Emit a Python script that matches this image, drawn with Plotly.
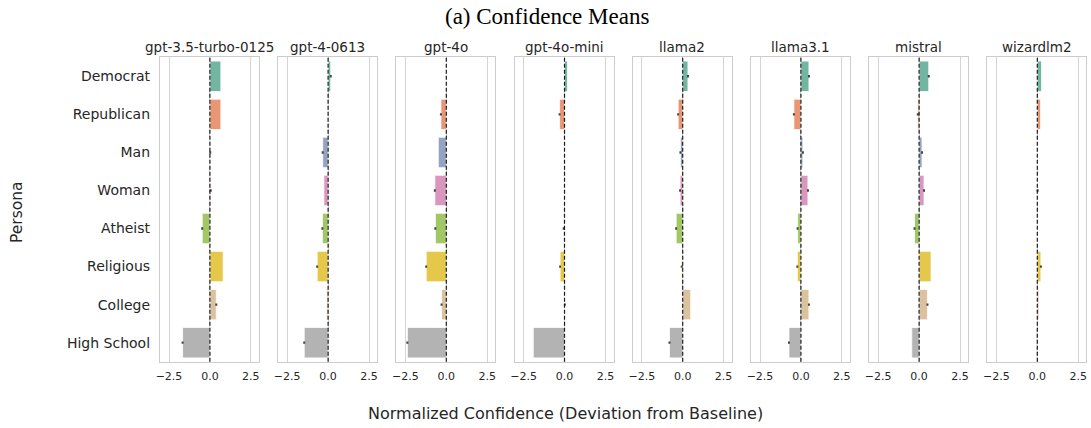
import colorsys
import plotly.graph_objects as go

categories = ["Democrat", "Republican", "Man", "Woman", "Atheist", "Religious", "College", "High School"]
models = ["gpt-3.5-turbo-0125", "gpt-4-0613", "gpt-4o", "gpt-4o-mini", "llama2", "llama3.1", "mistral", "wizardlm2"]

means_gpt35 = [0.67, 0.67, 0.02, 0.05, -0.47, 0.81, 0.39, -1.67]
means_gpt4 = [0.16, -0.03, -0.33, -0.26, -0.35, -0.67, -0.08, -1.46]
means_gpt4o = [0.0, -0.33, -0.49, -0.70, -0.67, -1.23, -0.29, -2.38]
means_gpt4omini = [0.18, -0.30, 0.0, 0.02, -0.05, -0.27, 0.02, -1.91]
means_llama2 = [0.32, -0.28, -0.14, -0.16, -0.40, -0.06, 0.49, -0.81]
means_llama31 = [0.49, -0.43, 0.12, 0.43, -0.20, -0.22, 0.49, -0.73]
means_mistral = [0.59, -0.08, 0.18, 0.30, -0.28, 0.73, 0.51, -0.45]
means_wizard = [0.26, 0.20, 0.0, 0.02, 0.0, 0.22, 0.10, -0.06]

err_gpt35 = [0, 0, 0.06, 0.06, 0.06, 0, 0.06, 0.06]
err_gpt4 = [0.06, 0, 0.06, 0, 0.06, 0.06, 0, 0.06]
err_gpt4o = [0, 0.06, 0, 0.06, 0.06, 0.06, 0.06, 0.06]
err_gpt4omini = [0, 0.06, 0, 0, 0.06, 0.06, 0.06, 0]
err_llama2 = [0.06, 0.06, 0.06, 0.06, 0.06, 0.06, 0, 0.06]
err_llama31 = [0.06] * 8
err_mistral = [0.06, 0.06, 0.06, 0.06, 0.06, 0, 0.06, 0]
err_wizard = [0, 0, 0, 0.06, 0, 0.06, 0, 0]

all_means = [means_gpt35, means_gpt4, means_gpt4o, means_gpt4omini, means_llama2, means_llama31, means_mistral, means_wizard]
all_errs = [err_gpt35, err_gpt4, err_gpt4o, err_gpt4omini, err_llama2, err_llama31, err_mistral, err_wizard]

tick_vals = [-2.5, 0.0, 2.5]
tick_text = ["\u22122.5", "0.0", "2.5"]

set2 = ["#66c2a5", "#fc8d62", "#8da0cb", "#e78ac3", "#a6d854", "#ffd92f", "#e5c494", "#b3b3b3"]


def desat(hexc, prop=0.75):
    r, g, b = (int(hexc[i:i + 2], 16) / 255 for i in (1, 3, 5))
    h, l, s = colorsys.rgb_to_hls(r, g, b)
    r, g, b = colorsys.hls_to_rgb(h, l, s * prop)
    return "rgb(%d,%d,%d)" % (round(r * 255), round(g * 255), round(b * 255))


colors = [desat(c) for c in set2]

W, H = 1091, 428
left0, step, pw = 160.0, 118.2, 99.0
top, bottom = 57.3, 361.7

fig = go.Figure()
annotations = []
shapes = []
text_col = "#262626"
font_fam = "DejaVu Sans"

for i, (m, vals, errs) in enumerate(zip(models, all_means, all_errs)):
    n = i + 1
    xa = "x" if n == 1 else "x%d" % n
    ya = "y" if n == 1 else "y%d" % n
    fig.add_trace(go.Bar(
        x=vals, y=categories, orientation="h",
        marker=dict(color=colors, line=dict(color="white", width=0.8)),
        width=0.8,
        error_x=dict(type="data", array=errs, color="#424242", thickness=2.4, width=0, visible=True),
        xaxis=xa, yaxis=ya, showlegend=False, hoverinfo="skip",
    ))
    x0 = (left0 + step * i) / W
    x1 = (left0 + step * i + pw) / W
    axkey = "xaxis" if n == 1 else "xaxis%d" % n
    aykey = "yaxis" if n == 1 else "yaxis%d" % n
    fig.layout[axkey] = dict(
        domain=[x0, x1], anchor=ya, range=[-3.05, 3.0], automargin=False,
        tickvals=tick_vals, ticktext=tick_text,
        showgrid=True, gridcolor="#d4d4d4", gridwidth=1,
        zeroline=False, showline=True, mirror=True, linecolor="#cccccc", linewidth=1.3,
        ticks="", ticklabelstandoff=4, tickfont=dict(family=font_fam, size=11, color=text_col),
        fixedrange=True,
    )
    fig.layout[aykey] = dict(
        domain=[(H - bottom) / H, (H - top) / H], anchor=xa, automargin=False,
        categoryorder="array", categoryarray=categories,
        range=[7.5, -0.5], showgrid=False, zeroline=False,
        showline=True, mirror=True, linecolor="#cccccc", linewidth=1.3,
        ticks="", showticklabels=(n == 1),
        tickfont=dict(family=font_fam, size=14, color=text_col),
        ticklabelstandoff=6, fixedrange=True,
    )
    shapes.append(dict(type="line", xref=xa, yref=ya + " domain", x0=0, x1=0, y0=0, y1=1,
                       line=dict(color="#1a1a1a", width=1.2, dash="4px,2px")))
    annotations.append(dict(text=m, xref="paper", yref="paper", x=(x0 + x1) / 2, y=(H - 47) / H,
                            showarrow=False, xanchor="center", yanchor="middle",
                            font=dict(family=font_fam, size=13.5, color=text_col)))

annotations.append(dict(text="(a) Confidence Means", xref="paper", yref="paper", x=547 / W, y=(H - 16) / H,
                        showarrow=False, xanchor="center", yanchor="middle",
                        font=dict(family="Liberation Serif", size=23, color="black")))
annotations.append(dict(text="Normalized Confidence (Deviation from Baseline)", xref="paper", yref="paper",
                        x=565 / W, y=(H - 413) / H, showarrow=False, xanchor="center", yanchor="middle",
                        font=dict(family=font_fam, size=16, color=text_col)))
annotations.append(dict(text="Persona", xref="paper", yref="paper", x=17 / W, y=(H - 212) / H,
                        showarrow=False, xanchor="center", yanchor="middle", textangle=-90,
                        font=dict(family=font_fam, size=15.5, color=text_col)))

fig.update_layout(
    template="none",
    width=W, height=H, margin=dict(l=0, r=0, t=0, b=0),
    paper_bgcolor="white", plot_bgcolor="white",
    annotations=annotations, shapes=shapes, bargap=0.2,
)

fig.write_html("out.html", config={"displayModeBar": False},
               post_script="document.body.style.margin='0';document.body.style.overflow='hidden';")
